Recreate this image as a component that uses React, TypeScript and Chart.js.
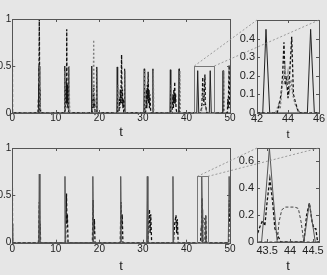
import React, { useEffect, useRef } from "react";
import { Chart, registerables } from "chart.js";

Chart.register(...registerables);

type P = [number, number];

// ---------- tick labels ----------
const mainXTicks = [0, 10, 20, 30, 40, 50];
const mainYTicks = [0, 0.5, 1];
const topInsetXTicks = [42, 44, 46];
const topInsetYTicks = [0, 0.1, 0.2, 0.3, 0.4];
const botInsetXTicks = [43.5, 44, 44.5];
const botInsetYTicks = [0, 0.2, 0.4, 0.6];

// ---------- ranges / zoom boxes [xmin, xmax, ymin, ymax] ----------
const mainRange = [0, 50, 0, 1];
const topInsetRange = [42, 46, 0, 0.5];
const botInsetRange = [43.28, 44.63, 0, 0.7];
const topZoomBox = [41.8, 46.4, 0, 0.5];
const botZoomBox = [42.5, 44.9, 0, 0.7];

// ---------- top panel series ----------
const topSolid: P[] = [
  [0, 0], [5.95, 0], [6.05, 0.3], [6.1, 0.05], [6.15, 0.5], [6.22, 0.1], [6.28, 0.45], [6.35, 0],
  [11.9, 0], [12.0, 0.5], [12.1, 0], [12.8, 0], [12.9, 0.49], [13.0, 0],
  [18.1, 0], [18.2, 0.5], [18.3, 0], [19.3, 0], [19.4, 0.49], [19.5, 0],
  [24.0, 0], [24.1, 0.49], [24.2, 0], [25.7, 0], [25.8, 0.47], [25.9, 0],
  [30.2, 0], [30.3, 0.47], [30.4, 0], [32.2, 0], [32.3, 0.47], [32.4, 0],
  [36.2, 0], [36.3, 0.46], [36.4, 0], [38.2, 0], [38.3, 0.47], [38.4, 0],
  [42.37, 0], [42.58, 0.45], [42.82, 0], [45.25, 0], [45.46, 0.45], [45.7, 0],
  [48.3, 0], [48.4, 0.45], [48.5, 0], [50, 0],
];
const topDashed: P[] = [
  [0, 1], [0.05, 0],
  [5.9, 0], [6.0, 0.15], [6.05, 0.05], [6.12, 0.3], [6.2, 1.0], [6.3, 0.1], [6.38, 0.25], [6.45, 0.05], [6.55, 0],
  [12.1, 0], [12.2, 0.25], [12.28, 0.05], [12.36, 0.35], [12.45, 0.1], [12.5, 0.89], [12.58, 0.1], [12.66, 0.3], [12.74, 0.05], [12.82, 0.2], [12.9, 0],
  [18.3, 0], [18.4, 0.15], [18.5, 0.05], [18.6, 0.2], [18.7, 0.3], [18.8, 0.05], [18.9, 0.15], [19.0, 0],
  [24.5, 0], [24.6, 0.15], [24.7, 0.05], [24.8, 0.25], [24.9, 0.1], [25.0, 0.3], [25.1, 0.62], [25.2, 0.1], [25.3, 0.25], [25.4, 0.05], [25.5, 0.15], [25.6, 0],
  [30.6, 0], [30.7, 0.1], [30.8, 0.25], [30.9, 0.05], [31.0, 0.3], [31.1, 0.15], [31.2, 0.44], [31.3, 0.1], [31.4, 0.25], [31.5, 0.05], [31.6, 0.2], [31.8, 0],
  [36.7, 0], [36.8, 0.1], [36.9, 0.2], [37.0, 0.05], [37.1, 0.25], [37.2, 0.1], [37.3, 0.33], [37.4, 0.1], [37.5, 0.2], [37.6, 0.05], [37.8, 0],
  [43.3, 0], [43.45, 0.05], [43.55, 0.1], [43.65, 0.2], [43.74, 0.38], [43.82, 0.15], [43.9, 0.2], [44.0, 0.08], [44.1, 0.2], [44.24, 0.41], [44.35, 0.1], [44.5, 0.05], [44.7, 0],
  [49.4, 0], [49.5, 0.15], [49.6, 0.05], [49.8, 0.51], [49.9, 0.1], [50, 0.05],
];
const topDotted: P[] = [
  [0, 0],
  [6.25, 0], [6.35, 0.5], [6.45, 0],
  [12.0, 0], [12.1, 0.45], [12.2, 0], [12.95, 0], [13.05, 0.5], [13.15, 0.1], [13.25, 0],
  [18.4, 0], [18.55, 0.2], [18.7, 0.78], [18.8, 0.1], [18.9, 0.2], [19.0, 0], [19.4, 0], [19.5, 0.47], [19.6, 0],
  [24.2, 0], [24.3, 0.3], [24.4, 0], [25.8, 0], [25.9, 0.45], [26.0, 0],
  [30.3, 0], [30.4, 0.45], [30.5, 0], [32.3, 0], [32.4, 0.45], [32.5, 0],
  [36.4, 0], [36.5, 0.3], [36.6, 0], [38.4, 0], [38.5, 0.45], [38.6, 0],
  [43.2, 0], [43.4, 0.05], [43.5, 0.02], [43.6, 0.12], [43.7, 0.18], [43.8, 0.25], [43.9, 0.15], [44.0, 0.22], [44.1, 0.12], [44.2, 0.18], [44.3, 0.1], [44.45, 0.05], [44.6, 0.02], [44.8, 0],
  [48.5, 0], [48.6, 0.45], [48.7, 0], [50, 0],
];

// ---------- bottom panel series ----------
const botSolid: P[] = [
  [0, 0.2], [0.1, 0],
  [6.05, 0], [6.2, 0.725], [6.35, 0],
  [11.95, 0], [12.1, 0.7], [12.25, 0],
  [18.35, 0], [18.5, 0.7], [18.65, 0],
  [24.75, 0], [24.9, 0.7], [25.05, 0],
  [30.85, 0], [31.0, 0.7], [31.15, 0],
  [36.75, 0], [36.9, 0.7], [37.05, 0],
  [43.38, 0], [43.47, 0.35], [43.55, 0.7], [43.63, 0.35], [43.72, 0],
  [44.3, 0], [44.42, 0.29], [44.55, 0],
  [49.6, 0], [49.8, 0.7], [50, 0.3],
];
const botDashed: P[] = [
  [0, 1], [0.05, 0],
  [6.0, 0], [6.1, 0.1], [6.2, 0.43], [6.3, 0.1], [6.4, 0.2], [6.5, 0],
  [12.2, 0], [12.3, 0.15], [12.45, 0.52], [12.55, 0.2], [12.65, 0.3], [12.8, 0],
  [18.4, 0], [18.55, 0.45], [18.7, 0.1], [18.85, 0.25], [19.0, 0],
  [24.8, 0], [24.95, 0.43], [25.1, 0.15], [25.25, 0.3], [25.4, 0],
  [31.1, 0], [31.3, 0.2], [31.5, 0.35], [31.65, 0.1], [31.8, 0.3], [32.0, 0],
  [37.0, 0], [37.3, 0.2], [37.6, 0.29], [37.75, 0.1], [37.9, 0.25], [38.1, 0],
  [43.2, 0], [43.28, 0.05], [43.35, 0.12], [43.4, 0.16], [43.45, 0.12], [43.5, 0.3], [43.56, 0.47], [43.62, 0.3], [43.67, 0.1], [43.73, 0.05], [43.8, 0],
  [44.3, 0], [44.36, 0.2], [44.42, 0.29], [44.48, 0.15], [44.52, 0.1], [44.56, 0.1], [44.6, 0],
  [49.7, 0], [49.85, 0.45], [50, 0.2],
];
const botDotted: P[] = [
  [0, 0], [43.72, 0], [43.76, 0.15], [43.82, 0.24], [43.9, 0.26], [44.1, 0.26], [44.18, 0.25], [44.24, 0.15], [44.3, 0], [50, 0],
];

// ---------- styling ----------
const BG = "#e6e6e6";
const FONT = "'Liberation Sans Narrow', 'Liberation Sans', Arial, sans-serif";
const TITLE_FONT = "'Liberation Sans', Arial, sans-serif";

interface Series { data: P[]; color: string; width: number; dash: number[] }
interface PanelSpec {
  left: number; top: number; width: number; height: number;
  range: number[]; xTicks: number[]; yTicks: number[];
  padTop: number; padRight: number; yWidth: number; xHeight: number;
  xTickPad: number; yTickPad: number; tickSize: number;
  titleSize: number; titlePad: number;
  series: Series[]; zoomBox?: number[];
}

const boxPlugin = {
  id: "matlabBox",
  afterDraw(chart: any, _args: any, opts: any) {
    const { ctx, chartArea: a, scales } = chart;
    ctx.save();
    ctx.setLineDash([]);
    ctx.strokeStyle = "#555";
    ctx.lineWidth = 1;
    const L = 3;
    ctx.beginPath();
    for (const t of scales.x.ticks) {
      const px = Math.round(scales.x.getPixelForValue(t.value)) + 0.5;
      ctx.moveTo(px, a.bottom); ctx.lineTo(px, a.bottom - L);
      ctx.moveTo(px, a.top); ctx.lineTo(px, a.top + L);
    }
    for (const t of scales.y.ticks) {
      const py = Math.round(scales.y.getPixelForValue(t.value)) + 0.5;
      ctx.moveTo(a.left, py); ctx.lineTo(a.left + L, py);
      ctx.moveTo(a.right, py); ctx.lineTo(a.right - L, py);
    }
    ctx.stroke();
    ctx.strokeRect(Math.round(a.left) + 0.5, Math.round(a.top) + 0.5,
      Math.round(a.right - a.left), Math.round(a.bottom - a.top));
    const zb = opts && opts.zoomBox;
    if (zb) {
      const x1 = Math.round(scales.x.getPixelForValue(zb[0])) + 0.5;
      const x2 = Math.round(scales.x.getPixelForValue(zb[1])) + 0.5;
      const y1 = Math.round(scales.y.getPixelForValue(zb[3])) + 0.5;
      const y2 = Math.round(scales.y.getPixelForValue(zb[2])) + 0.5;
      ctx.strokeStyle = "#777";
      ctx.strokeRect(x1, y1, x2 - x1, y2 - y1);
    }
    ctx.restore();
  },
};

function buildChart(canvas: HTMLCanvasElement, p: PanelSpec) {
  const fmt = (v: any) => String(v);
  return new Chart(canvas, {
    type: "line",
    data: {
      datasets: p.series.map((s) => ({
        data: s.data.map(([x, y]) => ({ x, y })),
        borderColor: s.color,
        borderWidth: s.width,
        borderDash: s.dash,
        pointRadius: 0,
        pointHoverRadius: 0,
        fill: false,
        tension: 0,
      })),
    },
    options: {
      animation: false,
      responsive: false,
      devicePixelRatio: 1,
      events: [],
      layout: { padding: { left: 0, top: p.padTop, right: p.padRight, bottom: 0 } },
      plugins: {
        legend: { display: false },
        tooltip: { enabled: false },
        matlabBox: { zoomBox: p.zoomBox },
      } as any,
      scales: {
        x: {
          type: "linear",
          min: p.range[0],
          max: p.range[1],
          afterBuildTicks: (s: any) => { s.ticks = p.xTicks.map((v) => ({ value: v })); },
          afterFit: (s: any) => { s.height = p.xHeight; },
          grid: { display: false, drawTicks: false },
          border: { display: false },
          ticks: {
            font: { family: FONT, size: p.tickSize },
            color: "#222",
            padding: p.xTickPad,
            maxRotation: 0,
            autoSkip: false,
            callback: fmt,
          },
          title: {
            display: true,
            text: "t",
            color: "#222",
            font: { family: TITLE_FONT, size: p.titleSize },
            padding: { top: 0, bottom: p.titlePad },
          },
        },
        y: {
          type: "linear",
          min: p.range[2],
          max: p.range[3],
          afterBuildTicks: (s: any) => { s.ticks = p.yTicks.map((v) => ({ value: v })); },
          afterFit: (s: any) => { s.width = p.yWidth; },
          grid: { display: false, drawTicks: false },
          border: { display: false },
          ticks: {
            font: { family: FONT, size: p.tickSize },
            color: "#222",
            padding: p.yTickPad,
            autoSkip: false,
            callback: fmt,
          },
        },
      },
    } as any,
    plugins: [boxPlugin as any],
  });
}

const solidTop: Series = { data: topSolid, color: "#222", width: 1, dash: [] };
const dashedTop: Series = { data: topDashed, color: "#111", width: 1.3, dash: [3, 2] };
const dottedTop: Series = { data: topDotted, color: "#7a7a7a", width: 1.2, dash: [2, 2] };
const solidBot: Series = { data: botSolid, color: "#555", width: 1, dash: [] };
const dashedBot: Series = { data: botDashed, color: "#111", width: 1.3, dash: [3, 2] };
const dottedBot: Series = { data: botDotted, color: "#444", width: 1, dash: [3, 2] };

const panels: PanelSpec[] = [
  {
    left: 0, top: 0, width: 240, height: 140, range: mainRange,
    xTicks: mainXTicks, yTicks: mainYTicks, padTop: 19, padRight: 10, yWidth: 12.3, xHeight: 27,
    xTickPad: -1, yTickPad: 1, tickSize: 10, titleSize: 13, titlePad: 0,
    series: [dottedTop, solidTop, dashedTop], zoomBox: topZoomBox,
  },
  {
    left: 235, top: 0, width: 92, height: 143, range: topInsetRange,
    xTicks: topInsetXTicks, yTicks: topInsetYTicks, padTop: 20, padRight: 8, yWidth: 22, xHeight: 30,
    xTickPad: -1, yTickPad: 2, tickSize: 11, titleSize: 11, titlePad: 1.4,
    series: [dottedTop, solidTop, dashedTop],
  },
  {
    left: 0, top: 135, width: 240, height: 140, range: mainRange,
    xTicks: mainXTicks, yTicks: mainYTicks, padTop: 13, padRight: 10, yWidth: 12.3, xHeight: 32.3,
    xTickPad: 1, yTickPad: 1, tickSize: 10, titleSize: 13, titlePad: 0.5,
    series: [dottedBot, solidBot, dashedBot], zoomBox: botZoomBox,
  },
  {
    left: 235, top: 135, width: 92, height: 140, range: botInsetRange,
    xTicks: botInsetXTicks, yTicks: botInsetYTicks, padTop: 13, padRight: 8, yWidth: 22, xHeight: 33,
    xTickPad: 2, yTickPad: 3, tickSize: 11, titleSize: 13, titlePad: 0.5,
    series: [dottedBot, solidBot, dashedBot],
  },
];

export default function App() {
  const refs = [useRef<HTMLCanvasElement>(null), useRef<HTMLCanvasElement>(null),
    useRef<HTMLCanvasElement>(null), useRef<HTMLCanvasElement>(null)];
  const overlayRef = useRef<HTMLCanvasElement>(null);

  useEffect(() => {
    const charts = panels.map((p, i) => buildChart(refs[i].current as HTMLCanvasElement, p));
    const ov = overlayRef.current as HTMLCanvasElement;
    const ctx = ov.getContext("2d") as CanvasRenderingContext2D;
    ctx.clearRect(0, 0, ov.width, ov.height);
    ctx.strokeStyle = "#888";
    ctx.lineWidth = 0.8;
    ctx.setLineDash([2, 2]);
    const link = (mi: number, ii: number, box: number[]) => {
      const m = charts[mi] as any, ins = charts[ii] as any;
      const mp = panels[mi], ip = panels[ii];
      const x1 = mp.left + m.scales.x.getPixelForValue(box[0]);
      const x2 = mp.left + m.scales.x.getPixelForValue(box[1]);
      const y = mp.top + m.scales.y.getPixelForValue(box[3]);
      const a = ins.chartArea;
      ctx.beginPath();
      ctx.moveTo(x1, y); ctx.lineTo(ip.left + a.left, ip.top + a.top);
      ctx.moveTo(x2, y); ctx.lineTo(ip.left + a.right, ip.top + a.top);
      ctx.stroke();
    };
    link(0, 1, topZoomBox);
    link(2, 3, botZoomBox);
    return () => { charts.forEach((c) => c.destroy()); };
  }, []);

  return (
    <div style={{ position: "fixed", left: 0, top: 0, width: 327, height: 275, background: BG, overflow: "hidden" }}>
      {panels.map((p, i) => (
        <canvas key={i} ref={refs[i]} width={p.width} height={p.height}
          style={{ position: "absolute", left: p.left, top: p.top, width: p.width, height: p.height }} />
      ))}
      <canvas ref={overlayRef} width={327} height={275}
        style={{ position: "absolute", left: 0, top: 0, width: 327, height: 275, pointerEvents: "none" }} />
    </div>
  );
}
